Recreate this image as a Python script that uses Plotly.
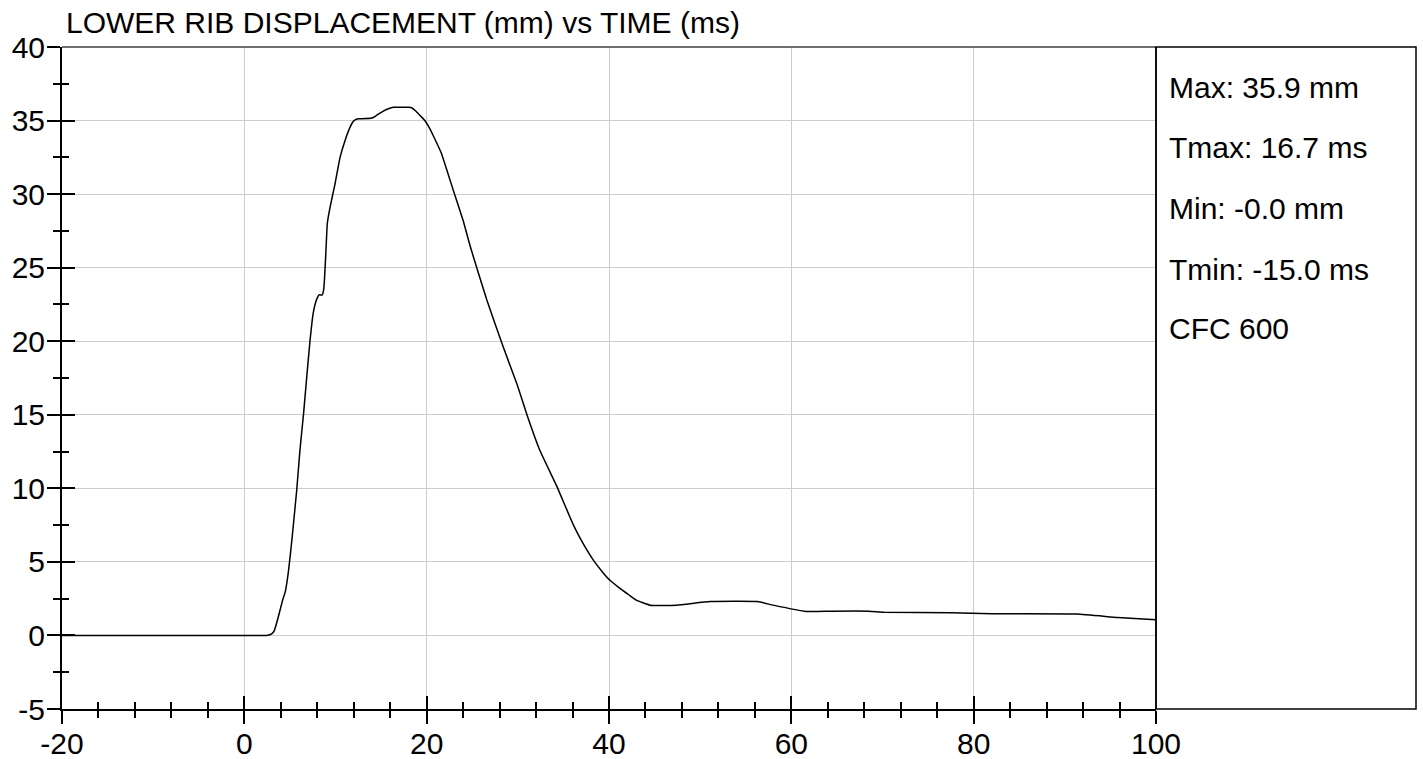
import plotly.graph_objects as go

# ---- data ----
time_ms = [-20, -15, -10, -5, 0, 2.0, 2.6, 3.0, 3.3, 3.7, 4.2, 4.5, 4.85, 5.2, 5.75, 6.1, 6.5,
           6.85, 7.2, 7.55, 7.8, 8.0, 8.2, 8.55, 8.7, 8.8, 8.9, 9.0, 9.1, 9.4, 9.95, 10.5,
           11.05, 11.6, 11.9, 12.15, 12.5, 12.9, 14.0, 14.5, 15.25, 15.8, 16.35, 17.45, 18.0,
           18.4, 18.8, 19.1, 19.5, 19.8, 20.3, 20.7, 21.6, 22.9, 24.0, 24.8, 26.6, 28.4, 29.9,
           31.0, 32.4, 34.3, 36.1, 37.2, 38.3, 39.3, 40.1, 41.2, 42.2, 43.0, 44.5, 47.4, 51.1,
           56.3, 58.0, 61.6, 64.5, 68.5, 70.2, 77.5, 82.0, 91.3, 95.8, 100]
disp_mm = [0, 0, 0, 0, 0, 0, 0.02, 0.1, 0.35, 1.2, 2.4, 3.0, 4.4, 6.4, 9.9, 12.6, 15.1,
           17.6, 20.0, 21.9, 22.6, 22.95, 23.15, 23.15, 23.5, 24.3, 25.5, 26.8, 28.0, 29.1,
           30.7, 32.5, 33.65, 34.55, 34.9, 35.05, 35.12, 35.12, 35.17, 35.35, 35.64, 35.8,
           35.9, 35.9, 35.9, 35.85, 35.65, 35.46, 35.2, 35.0, 34.5, 34.0, 32.8, 30.3, 28.2,
           26.4, 22.8, 19.6, 17.1, 15.0, 12.6, 10.1, 7.5, 6.2, 5.1, 4.3, 3.75, 3.2, 2.75,
           2.4, 2.06, 2.06, 2.3, 2.3, 2.06, 1.63, 1.65, 1.65, 1.58, 1.54, 1.47, 1.45, 1.22,
           1.06]

x_tickvals = [-20, 0, 20, 40, 60, 80, 100]
x_ticktext = ["-20", "0", "20", "40", "60", "80", "100"]
y_tickvals = [-5, 0, 5, 10, 15, 20, 25, 30, 35, 40]
y_ticktext = ["-5", "0", "5", "10", "15", "20", "25", "30", "35", "40"]

title_text = "LOWER RIB DISPLACEMENT (mm) vs TIME (ms)"
stats_lines = ["Max: 35.9 mm", "Tmax: 16.7 ms", "Min: -0.0 mm", "Tmin: -15.0 ms", "CFC 600"]

x_range = [-20, 100]
y_range = [-5, 40]

FONT = "Liberation Sans, Arial, Helvetica, sans-serif"
W, H = 1423, 759        # figure == page (body margin removed below)
PX0, PY0 = 62, 47       # position of plot-area top-left
PW, PH = 1094, 662      # plot-area size
ML, MT = PX0, PY0
MR = W - ML - PW
MB = H - MT - PH
FS = 30

fig = go.Figure()
fig.add_trace(go.Scatter(x=time_ms, y=disp_mm, mode="lines",
                         line=dict(color="black", width=1.5, shape="spline", smoothing=0.4),
                         showlegend=False, hoverinfo="x+y"))
# companion trace for the inner-tick overlay axes
fig.add_trace(go.Scatter(x=time_ms, y=disp_mm, mode="lines", xaxis="x2", yaxis="y2",
                         line=dict(color="rgba(0,0,0,0)", width=0), showlegend=False,
                         hoverinfo="skip"))

tickfont = dict(family=FONT, size=FS, color="black")

fig.update_layout(
    width=W, height=H,
    margin=dict(l=ML, r=MR, t=MT, b=MB, autoexpand=False),
    paper_bgcolor="white", plot_bgcolor="white",
    xaxis=dict(range=x_range, tickmode="array", tickvals=x_tickvals, ticktext=x_ticktext,
               showgrid=True, gridcolor="#cccccc",
               gridwidth=1, zeroline=False, showline=True, linecolor="black", linewidth=2,
               ticks="outside", ticklen=13, tickwidth=1.5, tickcolor="black",
               minor=dict(tick0=0, dtick=4, ticks="outside", ticklen=7, tickwidth=1.5,
                          tickcolor="black", showgrid=False),
               tickfont=tickfont, ticklabelstandoff=-6, automargin=False),
    yaxis=dict(range=y_range, tickmode="array", tickvals=y_tickvals, ticktext=y_ticktext,
               showgrid=True, gridcolor="#cccccc",
               gridwidth=1, zeroline=False, showline=True, linecolor="black", linewidth=2,
               ticks="outside", ticklen=13, tickwidth=1.5, tickcolor="black",
               minor=dict(tick0=0, dtick=2.5, ticks="outside", ticklen=7, tickwidth=1.5,
                          tickcolor="black", showgrid=False),
               tickfont=tickfont, ticklabelstandoff=-4, automargin=False),
    xaxis2=dict(range=x_range, overlaying="x", anchor="y", side="bottom",
                tickmode="array", tickvals=x_tickvals,
                showgrid=False, zeroline=False, showline=False, showticklabels=False,
                ticks="inside", ticklen=13, tickwidth=1.5, tickcolor="black",
                minor=dict(tick0=0, dtick=4, ticks="inside", ticklen=7, tickwidth=1.5,
                           tickcolor="black", showgrid=False), automargin=False),
    yaxis2=dict(range=y_range, overlaying="y", anchor="x", side="left",
                tickmode="array", tickvals=y_tickvals,
                showgrid=False, zeroline=False, showline=False, showticklabels=False,
                ticks="inside", ticklen=13, tickwidth=1.5, tickcolor="black",
                minor=dict(tick0=0, dtick=2.5, ticks="inside", ticklen=7, tickwidth=1.5,
                           tickcolor="black", showgrid=False), automargin=False),
    showlegend=False,
)

# frame: top and right borders of the plot area, plus the statistics box
fig.add_shape(type="line", xref="paper", yref="paper", x0=0, x1=1, y0=1, y1=1,
              line=dict(color="#404040", width=1.5))
fig.add_shape(type="line", xref="paper", yref="paper", x0=1, x1=1, y0=0, y1=1,
              line=dict(color="black", width=1.5))
box_right = (1416 - PX0) / PW
fig.add_shape(type="rect", xref="paper", yref="paper", x0=1, x1=box_right, y0=0, y1=1,
              line=dict(color="black", width=1.5), fillcolor="rgba(0,0,0,0)")

# title
fig.add_annotation(text=title_text, xref="paper", yref="paper", x=0, y=1 + (PY0 - 22) / PH,
                   xanchor="left", yanchor="middle", showarrow=False, xshift=2,
                   font=dict(family=FONT, size=FS, color="black"))

# statistics text
line_centers_px = [88, 147.5, 209, 269, 328]
for txt, cy in zip(stats_lines, line_centers_px):
    fig.add_annotation(text=txt, xref="paper", yref="paper",
                       x=(1167 - PX0) / PW, y=1 - (cy - PY0) / PH,
                       xanchor="left", yanchor="middle", showarrow=False,
                       font=dict(family=FONT, size=FS, color="black"))

fig.write_html("out.html",
               config={"displayModeBar": False},
               post_script="document.body.style.margin='0px';"
                           "document.body.style.overflow='hidden';")
